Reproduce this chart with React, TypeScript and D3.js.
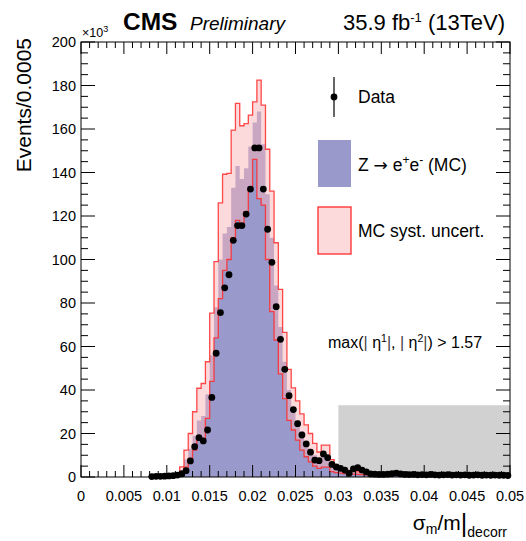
import React from 'react';
import * as d3 from 'd3';

// bins of width 0.0005 starting at 0.008 ; values in units of 10^3 events
const BIN_START = 0.008;
const BIN_WIDTH = 0.0005;

const dataVals = [
  0.2, 0.3, 0.3, 0.4, 0.5, 0.6, 0.9, 1.5,
  2.9, 7.4, 13.9, 18.1, 16.6, 21.6, 36.6, 56.9,
  75.6, 87, 93, 108.8, 115.6, 115.6, 120.9, 132.4,
  151.3, 151.3, 132.4, 113.9, 98.7, 78.3, 63.3, 49.5,
  37.4, 31, 24.5, 19.3, 15.2, 11.4, 7.8, 7.5,
  10.6, 8.9, 5.8, 4.6, 4.0, 3.2, 1.7, 3.7,
  4.3, 3.2, 2.4, 1.4,
  1.3, 1.2, 1.2, 1.3, 1.5, 1.8, 1.4, 1.2, 1.1, 1.2, 1.0, 1.1, 1.0, 1.2, 1.0, 0.9,
  1.0, 1.1, 0.9, 1.0, 0.9, 1.0, 0.8, 0.9, 1.0, 0.8, 0.9, 0.8, 0.9, 0.8, 0.8, 0.7,
];

const mcVals = [
  0, 0, 0, 0, 0, 0, 0.8, 2.6,
  8, 13, 19, 26, 28, 38, 56, 78,
  100, 112, 115, 133, 143, 137, 142, 152,
  163, 168, 153, 130, 110, 88, 69, 53,
  40, 32, 26, 21, 16.5, 13, 10, 8,
  10, 10, 5.5, 3.6, 3.0, 2.6, 2.2, 2.0,
  1.8, 1.6, 1.5, 1.4,
  1.3, 1.3, 1.25, 1.2, 1.2, 1.2, 1.15, 1.1, 1.1, 1.1, 1.05, 1.0, 1.0, 1.0, 1.0, 0.95,
  0.95, 0.95, 0.9, 0.9, 0.9, 0.9, 0.85, 0.85, 0.85, 0.85, 0.8, 0.8, 0.8, 0.8, 0.75, 0.75,
];

const upVals = [
  0, 0, 0, 0, 0, 0, 2, 4.7,
  12.4, 20, 30, 40.8, 43, 53, 75.3, 99,
  126, 139.2, 139.6, 159.5, 171.8, 161.5, 162.5, 166.4,
  172.5, 182.5, 171, 150.7, 131.4, 107.7, 86.3, 66.5,
  49.5, 41, 35, 29, 24, 20, 15.5, 11.5,
  14.7, 14.7, 8, 5, 4, 3.5, 3.0, 2.7,
  2.4, 2.1, 1.9, 1.8,
  1.7, 1.7, 1.6, 1.6, 1.55, 1.55, 1.5, 1.45, 1.45, 1.4, 1.4, 1.35, 1.3, 1.3, 1.3, 1.25,
  1.25, 1.2, 1.2, 1.2, 1.15, 1.15, 1.1, 1.1, 1.1, 1.1, 1.05, 1.05, 1.0, 1.0, 1.0, 1.0,
];

const loVals = [
  0, 0, 0, 0, 0, 0, 0.3, 1.2,
  4.5, 8.6, 12.4, 17, 17.8, 27, 44, 64,
  82, 95, 100, 110, 118, 115, 122, 133,
  146, 128, 125, 100, 76, 63, 47.4, 36,
  26, 21.6, 17, 12.4, 9.3, 7, 5, 4,
  4.5, 4.5, 2.5, 2, 1.8, 1.6, 1.4, 1.3,
  1.2, 1.1, 1.0, 0.95,
  0.9, 0.9, 0.9, 0.85, 0.85, 0.85, 0.8, 0.8, 0.8, 0.8, 0.75, 0.75, 0.75, 0.7, 0.7, 0.7,
  0.7, 0.65, 0.65, 0.65, 0.65, 0.6, 0.6, 0.6, 0.6, 0.6, 0.55, 0.55, 0.55, 0.55, 0.5, 0.5,
];

const xTickValues = [0, 0.005, 0.01, 0.015, 0.02, 0.025, 0.03, 0.035, 0.04, 0.045, 0.05];
const xTickLabels = ['0', '0.005', '0.01', '0.015', '0.02', '0.025', '0.03', '0.035', '0.04', '0.045', '0.05'];
const yTickValues = [0, 20, 40, 60, 80, 100, 120, 140, 160, 180, 200];
const blindRange = [0.03, 0.05];
const blindHeight = 33;

const FONT = '"Liberation Sans", Arial, Helvetica, sans-serif';
const W = 526, H = 541;

export default function App() {
  const x = d3.scaleLinear().domain([0, 0.05]).range([81, 510]);
  const y = d3.scaleLinear().domain([0, 200]).range([477, 42]);

  const bins = dataVals.map((d, k) => ({
    x0: BIN_START + k * BIN_WIDTH,
    x1: BIN_START + (k + 1) * BIN_WIDTH,
    data: d,
    mc: mcVals[k],
    up: upVals[k],
    lo: loVals[k],
  }));
  const mcBins = bins.filter((b) => b.mc > 0);

  const steps = mcBins.flatMap((b) => [
    { x: b.x0, ...b },
    { x: b.x1, ...b },
  ]);

  const mcArea = d3.area<any>().x((d) => x(d.x)).y0(y(0)).y1((d) => y(d.mc))(steps) || '';
  const bandArea = d3.area<any>().x((d) => x(d.x)).y0((d) => y(d.lo)).y1((d) => y(d.up))(steps) || '';
  const first = mcBins[0];
  const withEnds = (key: 'up' | 'lo') => {
    const pts: [number, number][] = [[x(first.x0), y(0)]];
    steps.forEach((s) => pts.push([x(s.x), y(s[key])]));
    return d3.line()(pts) || '';
  };

  const xMinor = d3.range(0, 51).filter((i) => i % 5 !== 0).map((i) => i * 0.001);
  const yMinor = d3.range(0, 41).filter((i) => i % 4 !== 0).map((i) => i * 5);

  const fx0 = x(0), fx1 = x(0.05), fy0 = y(0), fy1 = y(200);

  return (
    <svg width={W} height={H} style={{ position: 'absolute', left: 0, top: 0, background: '#fff' }} fontFamily={FONT}>
      <rect x={0} y={0} width={W} height={H} fill="#fff" />
      {/* blinded region */}
      <rect x={x(blindRange[0])} y={y(blindHeight)} width={x(blindRange[1]) - x(blindRange[0])} height={y(0) - y(blindHeight)} fill="#d1d1d1" />
      {/* MC */}
      <path d={mcArea} fill="#9999cc" />
      {/* syst band */}
      <path d={bandArea} fill="rgb(249,181,185)" fillOpacity={0.5} />
      <path d={withEnds('up')} fill="none" stroke="#ff2a2a" strokeWidth={1.3} strokeOpacity={0.85} />
      <path d={withEnds('lo')} fill="none" stroke="#ff2a2a" strokeWidth={1.3} strokeOpacity={0.85} />
      {/* data */}
      {bins.map((b, i) => (
        <circle key={i} cx={x((b.x0 + b.x1) / 2)} cy={y(b.data)} r={3.4} fill="#000" />
      ))}

      {/* frame */}
      <rect x={fx0} y={fy1} width={fx1 - fx0} height={fy0 - fy1} fill="none" stroke="#000" strokeWidth={1} />
      {xTickValues.map((v) => (
        <g key={'xm' + v}>
          <line x1={x(v)} x2={x(v)} y1={fy0} y2={fy0 - 12} stroke="#000" />
          <line x1={x(v)} x2={x(v)} y1={fy1} y2={fy1 + 12} stroke="#000" />
        </g>
      ))}
      {xMinor.map((v) => (
        <g key={'xn' + v}>
          <line x1={x(v)} x2={x(v)} y1={fy0} y2={fy0 - 6} stroke="#000" />
          <line x1={x(v)} x2={x(v)} y1={fy1} y2={fy1 + 6} stroke="#000" />
        </g>
      ))}
      {yTickValues.map((v) => (
        <g key={'ym' + v}>
          <line x1={fx0} x2={fx0 + 14} y1={y(v)} y2={y(v)} stroke="#000" />
          <line x1={fx1} x2={fx1 - 14} y1={y(v)} y2={y(v)} stroke="#000" />
        </g>
      ))}
      {yMinor.map((v) => (
        <g key={'yn' + v}>
          <line x1={fx0} x2={fx0 + 7} y1={y(v)} y2={y(v)} stroke="#000" />
          <line x1={fx1} x2={fx1 - 7} y1={y(v)} y2={y(v)} stroke="#000" />
        </g>
      ))}

      {/* tick labels */}
      {xTickValues.map((v, i) => (
        <text key={'xl' + v} x={x(v)} y={501} textAnchor="middle" fontSize={14.5} fill="#000">
          {xTickLabels[i]}
        </text>
      ))}
      {yTickValues.map((v) => (
        <text key={'yl' + v} x={76} y={y(v)} dy="0.36em" textAnchor="end" fontSize={14.5} fill="#000">
          {v}
        </text>
      ))}
      <text x={82} y={37} fontSize={12.5} fill="#000">
        ×10<tspan dy={-5} fontSize={9}>3</tspan>
      </text>

      {/* axis titles */}
      <text transform="translate(31,38) rotate(-90)" textAnchor="end" fontSize={21} fill="#000">
        Events/0.0005
      </text>
      <text x={507} y={530} textAnchor="end" fontSize={21} fill="#000">
        σ<tspan fontSize={14} dy={4}>m</tspan>
        <tspan dy={-4}>/m</tspan>
        <tspan fontSize={25} dy={2}>|</tspan>
        <tspan fontSize={14} dy={5}>decorr</tspan>
      </text>

      {/* header */}
      <text x={123} y={30} fontSize={24.5} fontWeight="bold" fill="#000">CMS</text>
      <text x={190} y={30} fontSize={19} fontStyle="italic" fill="#000">Preliminary</text>
      <text x={505} y={30} textAnchor="end" fontSize={22} fill="#000">
        35.9 fb<tspan dy={-8} fontSize={13}>-1</tspan>
        <tspan dy={8}> (13TeV)</tspan>
      </text>

      {/* legend */}
      <line x1={334} x2={334} y1={77} y2={117} stroke="#000" strokeWidth={1.2} />
      <circle cx={334} cy={97} r={3.4} fill="#000" />
      <text x={358} y={103} fontSize={17.5} fill="#000">Data</text>

      <rect x={318} y={140} width={33} height={47} fill="#9999cc" />
      <text x={358} y={171} fontSize={17.5} fill="#000">
        Z <tspan fontFamily='"DejaVu Sans", sans-serif' fontSize={17}>→</tspan> e<tspan dy={-7} fontSize={12}>+</tspan>
        <tspan dy={7}>e</tspan>
        <tspan dy={-7} fontSize={12}>-</tspan>
        <tspan dy={7}> (MC)</tspan>
      </text>

      <rect x={318} y={207} width={33} height={47} fill="rgb(249,181,185)" fillOpacity={0.5} stroke="#ff2a2a" strokeWidth={1.3} />
      <text x={358} y={237} fontSize={17.5} fill="#000">MC syst. uncert.</text>

      <text x={328} y={348} fontSize={16} fill="#000">
        max(<tspan fill="#444">|</tspan> η<tspan dy={-6} fontSize={10.5}>1</tspan>
        <tspan dy={6} fill="#444">|</tspan>, <tspan fill="#444">|</tspan> η<tspan dy={-6} fontSize={10.5}>2</tspan>
        <tspan dy={6} fill="#444">|</tspan>) &gt; 1.57
      </text>
    </svg>
  );
}
